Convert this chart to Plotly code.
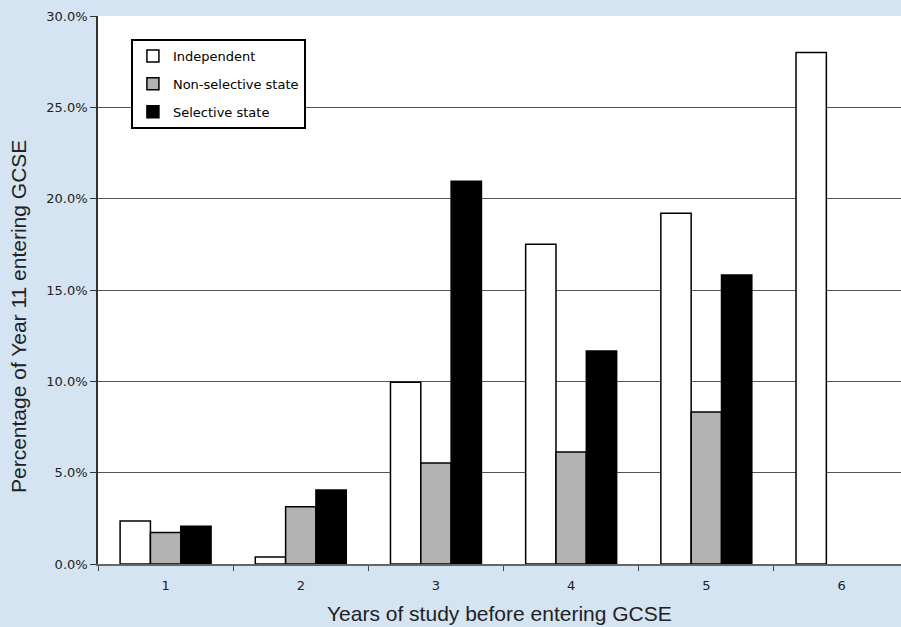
import plotly.graph_objects as go

years = [1, 2, 3, 4, 5, 6]
independent = [2.35, 0.38, 9.95, 17.5, 19.2, 28.0]
non_selective = [1.73, 3.14, 5.53, 6.13, 8.32, None]
selective = [2.06, 4.05, 20.95, 11.66, 15.82, None]

y_ticks = [0, 5, 10, 15, 20, 25, 30]
y_tick_text = ["0.0%", "5.0%", "10.0%", "15.0%", "20.0%", "25.0%", "30.0%"]

series = [
    ("Independent", independent, "#FFFFFF"),
    ("Non-selective state", non_selective, "#B3B3B3"),
    ("Selective state", selective, "#000000"),
]

fig = go.Figure()
for name, vals, color in series:
    fig.add_trace(go.Bar(
        x=years, y=vals, name=name, legendgroup=name,
        marker=dict(color=color, line=dict(color="#000000", width=1.5)),
    ))

tick_font = dict(family="DejaVu Sans", size=13, color="#222222")
title_font = dict(family="Liberation Sans, Arial", size=21, color="#222222")

fig.update_layout(
    width=901, height=627,
    margin=dict(l=98, r=0, t=16, b=63),
    paper_bgcolor="#D5E4F3",
    plot_bgcolor="#FFFFFF",
    barmode="group", bargap=0.327, bargroupgap=0,
    showlegend=True,
    legend=dict(
        x=0.041, y=0.958, xanchor="left", yanchor="top",
        bgcolor="#FFFFFF", bordercolor="#000000", borderwidth=2,
        font=dict(family="DejaVu Sans", size=13, color="#000000"),
        tracegroupgap=8, traceorder="grouped",
    ),
    xaxis=dict(
        range=[0.5, 6.44], tickmode="array", tickvals=years,
        ticktext=[str(v) for v in years], tickfont=tick_font,
        ticks="outside", ticklen=9, tickcolor="rgba(0,0,0,0)",
        showgrid=False, zeroline=False,
        showline=True, linecolor="#666666", linewidth=1.5,
        minor=dict(tickmode="linear", tick0=0.5, dtick=1, ticks="outside",
                   ticklen=5, tickcolor="#444444", tickwidth=1, showgrid=False),
    ),
    yaxis=dict(
        range=[0, 30], tickmode="array", tickvals=y_ticks, ticktext=y_tick_text,
        tickfont=tick_font, ticks="outside", ticklen=6, tickcolor="#333333",
        showgrid=True, gridcolor="#555555", gridwidth=1, zeroline=False,
        showline=True, linecolor="#333333", linewidth=1.5,
    ),
    annotations=[
        dict(text="Years of study before entering GCSE", font=title_font,
             xref="paper", yref="paper", x=0.5, y=-0.115,
             xanchor="center", yanchor="bottom", showarrow=False),
        dict(text="Percentage of Year 11 entering GCSE", font=title_font,
             xref="paper", yref="paper", x=-0.0996, y=0.4507, textangle=-90,
             xanchor="center", yanchor="middle", showarrow=False),
    ],
)

fig.write_html("out.html")
